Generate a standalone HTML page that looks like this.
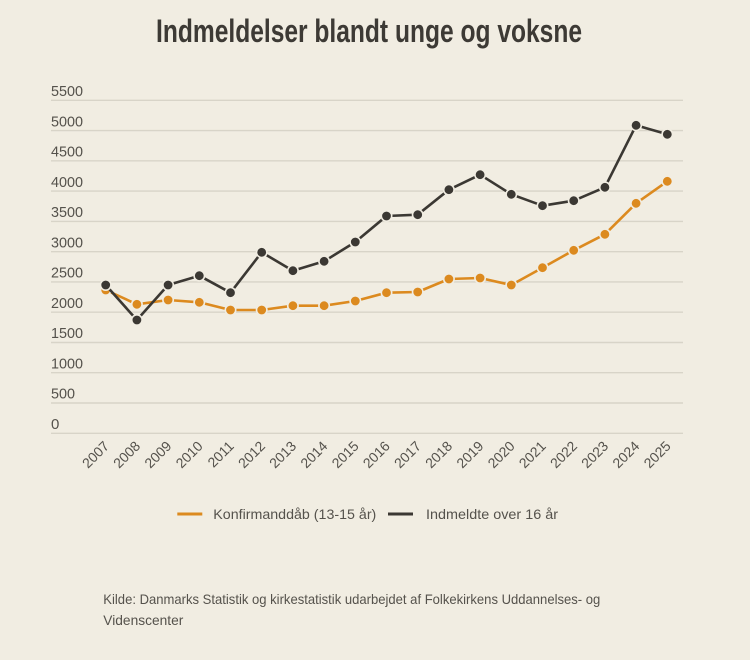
<!DOCTYPE html>
<html><head><meta charset="utf-8"><style>
html,body{margin:0;padding:0;background:#f1ede2;}
svg{display:block;}
text{font-family:"Liberation Sans",sans-serif;}
</style></head><body>
<svg width="750" height="660" viewBox="0 0 750 660" xmlns="http://www.w3.org/2000/svg">
<rect width="750" height="660" fill="#f1ede2"/>
<text x="156" y="42" font-size="32" font-weight="bold" fill="#3d3a35" textLength="426" lengthAdjust="spacingAndGlyphs" style="font-family:'Liberation Sans Narrow','Liberation Sans',sans-serif">Indmeldelser blandt unge og voksne</text>
<g stroke="#d8d4c8" stroke-width="1.4">
<line x1="51" x2="683" y1="100.3" y2="100.3"/>
<line x1="51" x2="683" y1="130.6" y2="130.6"/>
<line x1="51" x2="683" y1="160.8" y2="160.8"/>
<line x1="51" x2="683" y1="191.1" y2="191.1"/>
<line x1="51" x2="683" y1="221.4" y2="221.4"/>
<line x1="51" x2="683" y1="251.7" y2="251.7"/>
<line x1="51" x2="683" y1="281.9" y2="281.9"/>
<line x1="51" x2="683" y1="312.2" y2="312.2"/>
<line x1="51" x2="683" y1="342.5" y2="342.5"/>
<line x1="51" x2="683" y1="372.7" y2="372.7"/>
<line x1="51" x2="683" y1="403.0" y2="403.0"/>
<line x1="51" x2="683" y1="433.3" y2="433.3"/>
</g>
<g font-size="15" fill="#55524c">
<text x="51" y="96" textLength="32" lengthAdjust="spacingAndGlyphs">5500</text>
<text x="51" y="126.3" textLength="32" lengthAdjust="spacingAndGlyphs">5000</text>
<text x="51" y="156.5" textLength="32" lengthAdjust="spacingAndGlyphs">4500</text>
<text x="51" y="186.8" textLength="32" lengthAdjust="spacingAndGlyphs">4000</text>
<text x="51" y="217.1" textLength="32" lengthAdjust="spacingAndGlyphs">3500</text>
<text x="51" y="247.4" textLength="32" lengthAdjust="spacingAndGlyphs">3000</text>
<text x="51" y="277.6" textLength="32" lengthAdjust="spacingAndGlyphs">2500</text>
<text x="51" y="307.9" textLength="32" lengthAdjust="spacingAndGlyphs">2000</text>
<text x="51" y="338.2" textLength="32" lengthAdjust="spacingAndGlyphs">1500</text>
<text x="51" y="368.4" textLength="32" lengthAdjust="spacingAndGlyphs">1000</text>
<text x="51" y="398.7" textLength="24" lengthAdjust="spacingAndGlyphs">500</text>
<text x="51" y="429">0</text>
</g>
<g font-size="14" fill="#55524c" text-anchor="end">
<text transform="translate(110,447) rotate(-45)">2007</text>
<text transform="translate(141.2,447) rotate(-45)">2008</text>
<text transform="translate(172.4,447) rotate(-45)">2009</text>
<text transform="translate(203.6,447) rotate(-45)">2010</text>
<text transform="translate(234.8,447) rotate(-45)">2011</text>
<text transform="translate(266,447) rotate(-45)">2012</text>
<text transform="translate(297.2,447) rotate(-45)">2013</text>
<text transform="translate(328.4,447) rotate(-45)">2014</text>
<text transform="translate(359.6,447) rotate(-45)">2015</text>
<text transform="translate(390.8,447) rotate(-45)">2016</text>
<text transform="translate(422,447) rotate(-45)">2017</text>
<text transform="translate(453.2,447) rotate(-45)">2018</text>
<text transform="translate(484.4,447) rotate(-45)">2019</text>
<text transform="translate(515.6,447) rotate(-45)">2020</text>
<text transform="translate(546.8,447) rotate(-45)">2021</text>
<text transform="translate(578,447) rotate(-45)">2022</text>
<text transform="translate(609.2,447) rotate(-45)">2023</text>
<text transform="translate(640.4,447) rotate(-45)">2024</text>
<text transform="translate(671.6,447) rotate(-45)">2025</text>
</g>
<polyline fill="none" stroke="#dc8a1f" stroke-width="2.6" stroke-linejoin="round" points="105.7,290 136.9,304.3 168.1,300 199.3,302.3 230.5,310 261.7,310 292.9,305.7 324.1,305.7 355.3,301 386.5,292.7 417.7,292 448.9,279 480.1,278 511.3,285 542.5,267.7 573.7,250.3 604.9,234.3 636.1,203.3 667.3,181.3"/>
<g fill="#dc8a1f" stroke="#f1ede2" stroke-width="1.6">
<circle cx="105.7" cy="290" r="5.2"/><circle cx="136.9" cy="304.3" r="5.2"/><circle cx="168.1" cy="300" r="5.2"/><circle cx="199.3" cy="302.3" r="5.2"/><circle cx="230.5" cy="310" r="5.2"/><circle cx="261.7" cy="310" r="5.2"/><circle cx="292.9" cy="305.7" r="5.2"/><circle cx="324.1" cy="305.7" r="5.2"/><circle cx="355.3" cy="301" r="5.2"/><circle cx="386.5" cy="292.7" r="5.2"/><circle cx="417.7" cy="292" r="5.2"/><circle cx="448.9" cy="279" r="5.2"/><circle cx="480.1" cy="278" r="5.2"/><circle cx="511.3" cy="285" r="5.2"/><circle cx="542.5" cy="267.7" r="5.2"/><circle cx="573.7" cy="250.3" r="5.2"/><circle cx="604.9" cy="234.3" r="5.2"/><circle cx="636.1" cy="203.3" r="5.2"/><circle cx="667.3" cy="181.3" r="5.2"/>
</g>
<polyline fill="none" stroke="#3b3833" stroke-width="2.6" stroke-linejoin="round" points="105.7,285 136.9,320 168.1,285 199.3,275.7 230.5,292.7 261.7,252.3 292.9,270.7 324.1,261.3 355.3,242 386.5,216 417.7,214.7 448.9,189.7 480.1,174.7 511.3,194.3 542.5,205.7 573.7,200.7 604.9,187.3 636.1,125.3 667.3,134.3"/>
<g fill="#3b3833" stroke="#f1ede2" stroke-width="1.6">
<circle cx="105.7" cy="285" r="5.2"/><circle cx="136.9" cy="320" r="5.2"/><circle cx="168.1" cy="285" r="5.2"/><circle cx="199.3" cy="275.7" r="5.2"/><circle cx="230.5" cy="292.7" r="5.2"/><circle cx="261.7" cy="252.3" r="5.2"/><circle cx="292.9" cy="270.7" r="5.2"/><circle cx="324.1" cy="261.3" r="5.2"/><circle cx="355.3" cy="242" r="5.2"/><circle cx="386.5" cy="216" r="5.2"/><circle cx="417.7" cy="214.7" r="5.2"/><circle cx="448.9" cy="189.7" r="5.2"/><circle cx="480.1" cy="174.7" r="5.2"/><circle cx="511.3" cy="194.3" r="5.2"/><circle cx="542.5" cy="205.7" r="5.2"/><circle cx="573.7" cy="200.7" r="5.2"/><circle cx="604.9" cy="187.3" r="5.2"/><circle cx="636.1" cy="125.3" r="5.2"/><circle cx="667.3" cy="134.3" r="5.2"/>
</g>
<line x1="177.3" x2="202.3" y1="514" y2="514" stroke="#dc8a1f" stroke-width="3"/>
<text x="213.3" y="519" font-size="14" fill="#55524c" textLength="163" lengthAdjust="spacingAndGlyphs">Konfirmanddåb (13-15 år)</text>
<line x1="388" x2="413" y1="514" y2="514" stroke="#3b3833" stroke-width="3"/>
<text x="426" y="519" font-size="14" fill="#55524c" textLength="132" lengthAdjust="spacingAndGlyphs">Indmeldte over 16 år</text>
<text x="103.3" y="604" font-size="14" fill="#55524c" textLength="497" lengthAdjust="spacingAndGlyphs">Kilde: Danmarks Statistik og kirkestatistik udarbejdet af Folkekirkens Uddannelses- og</text>
<text x="103.3" y="625" font-size="14" fill="#55524c" textLength="80" lengthAdjust="spacingAndGlyphs">Videnscenter</text>
</svg>
</body></html>
